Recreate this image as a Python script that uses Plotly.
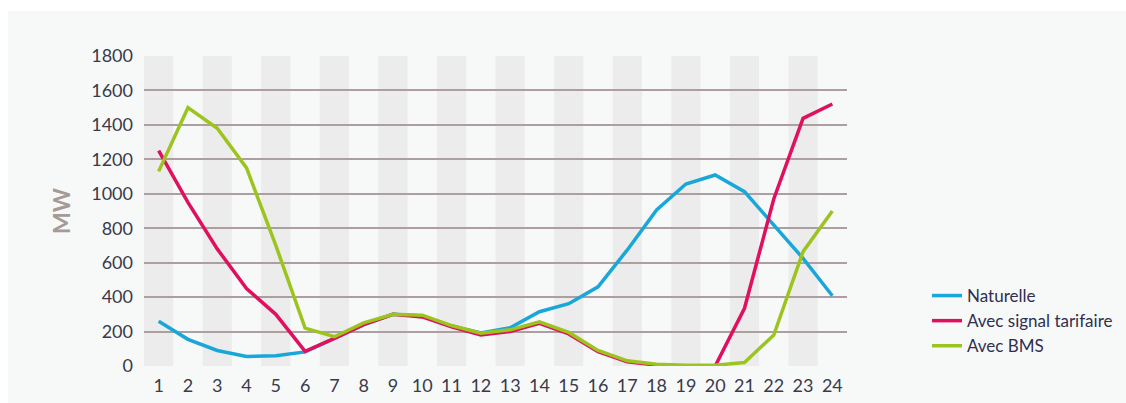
import plotly.graph_objects as go

hours = list(range(1, 25))
naturelle = [260, 155, 90, 55, 60, 82, 160, 240, 300, 290, 232, 192, 222, 315, 362, 460, 674, 906, 1057, 1109, 1012, 820, 625, 408]
signal_tarifaire = [1250, 950, 680, 450, 300, 85, 160, 240, 300, 285, 228, 180, 200, 248, 186, 83, 25, 5, 0, 0, 335, 970, 1438, 1521]
bms = [1130, 1500, 1380, 1150, 700, 220, 170, 250, 300, 295, 235, 190, 210, 257, 195, 90, 30, 10, 5, 5, 20, 180, 664, 900]
y_ticks = [0, 200, 400, 600, 800, 1000, 1200, 1400, 1600, 1800]

series = [
    ("Naturelle", naturelle, "#19a7d9"),
    ("Avec signal tarifaire", signal_tarifaire, "#e0105e"),
    ("Avec BMS", bms, "#9dc41e"),
]

fig = go.Figure()
for name, vals, color in series:
    fig.add_trace(go.Scatter(x=hours, y=vals, name=name, mode="lines",
                             line=dict(color=color, width=3.5)))

shapes = []
# white page border (top and left)
L, W, T, H = 144, 703, 56, 310
FW, FH = 1126, 403
shapes.append(dict(type="rect", xref="paper", yref="paper", x0=-L / W, x1=(FW - L) / W,
                   y0=(T + H - 11) / H, y1=(T + H) / H + 0.1, fillcolor="white", line_width=0, layer="below"))
shapes.append(dict(type="rect", xref="paper", yref="paper", x0=-L / W, x1=(8 - L) / W,
                   y0=-1, y1=2, fillcolor="white", line_width=0, layer="below"))
# alternating column stripes
for h in hours:
    if h % 2 == 1:
        shapes.append(dict(type="rect", xref="x", yref="y", x0=h - 0.5, x1=h + 0.5,
                           y0=y_ticks[0], y1=y_ticks[-1], fillcolor="#ececec", line_width=0, layer="below"))

fig.update_layout(
    width=FW, height=FH,
    margin=dict(l=L, r=FW - L - W, t=T, b=FH - T - H),
    paper_bgcolor="#f7f9f9", plot_bgcolor="rgba(0,0,0,0)",
    font=dict(family="Lato, Open Sans, sans-serif", color="#3a3a4a"),
    shapes=shapes,
    showlegend=True,
    legend=dict(xref="container", yref="container", x=927 / FW, y=(FH - 321) / FH,
                xanchor="left", yanchor="middle",
                bgcolor="rgba(0,0,0,0)", font=dict(size=17, color="#2f2f4f"),
                tracegroupgap=0, itemwidth=30),
)
fig.update_xaxes(range=[0.5, 24.5], tickmode="array", tickvals=hours, ticktext=[str(h) for h in hours],
                 showgrid=False, zeroline=False, showline=False, ticks="", ticklabelstandoff=7,
                 automargin=False, tickfont=dict(size=18, color="#3a3a4a"))
fig.update_yaxes(range=[0, 1800], tickmode="array", tickvals=y_ticks, ticktext=[str(v) for v in y_ticks],
                 showgrid=True, gridcolor="#ad9f9f", gridwidth=1.5, zeroline=False, showline=False,
                 ticks="", ticklabelstandoff=10, automargin=False,
                 tickfont=dict(size=18, color="#3a3a4a"),
                 title=dict(text="<b>MW</b>", font=dict(size=23, color="#a69a97"), standoff=14))

fig.write_html("out.html", config={"displayModeBar": False},
               post_script="document.body.style.margin='0';")
